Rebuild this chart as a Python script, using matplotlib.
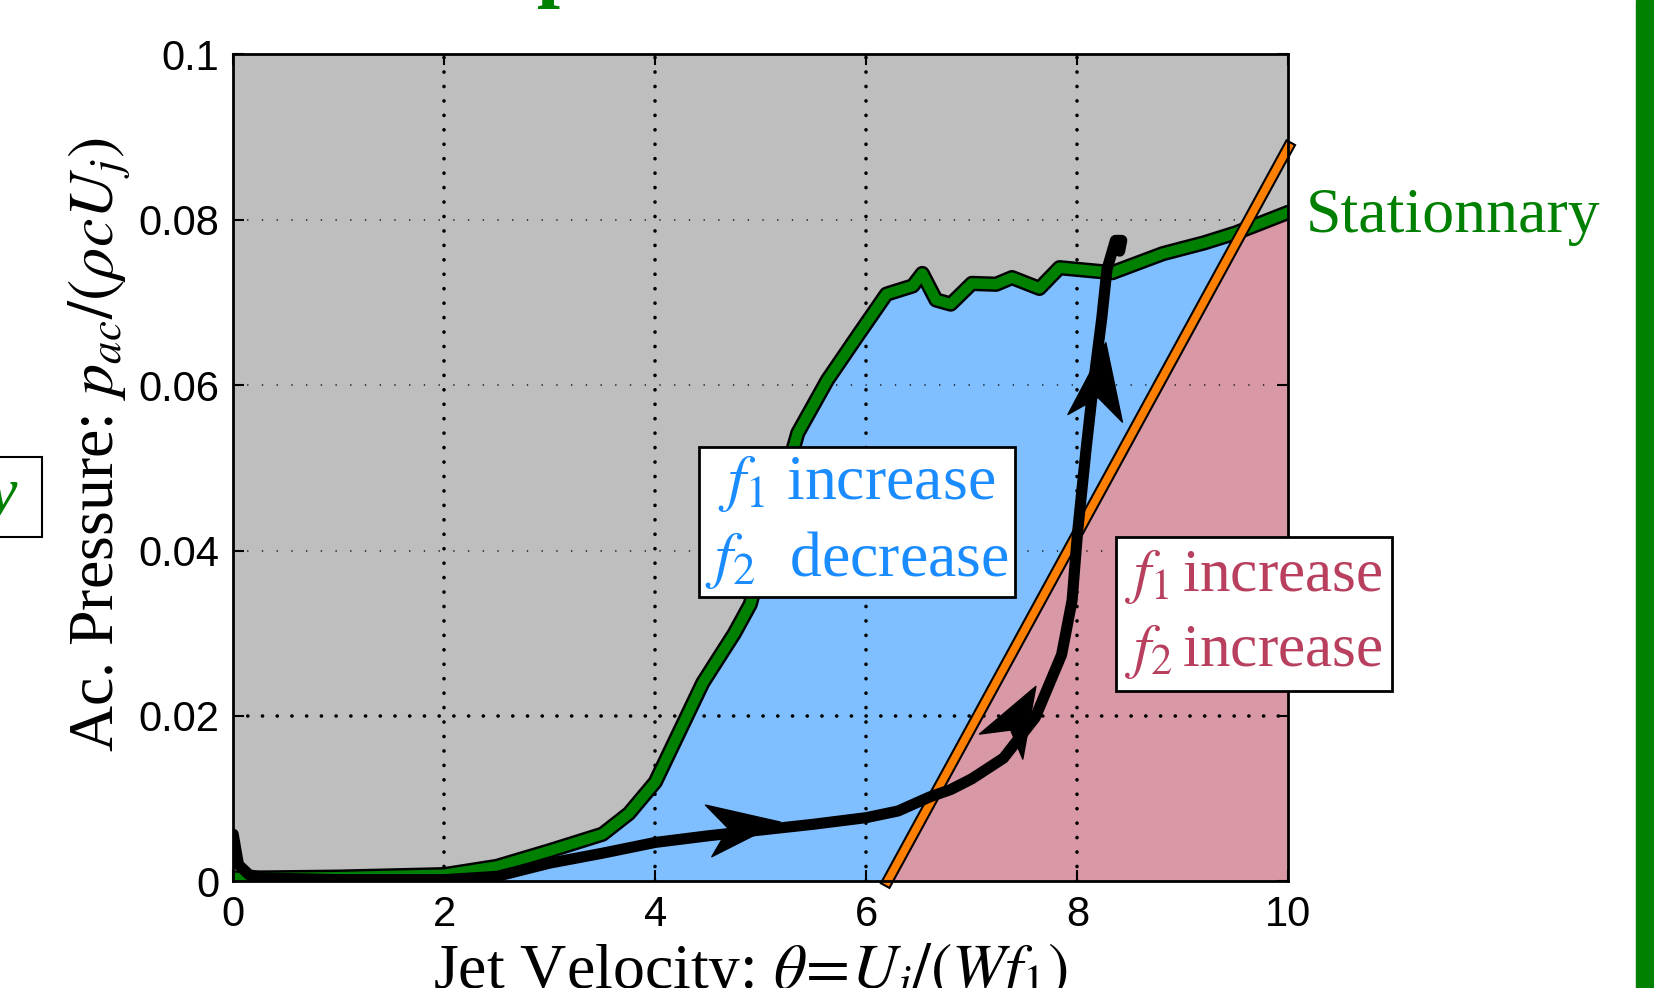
import numpy as np
import matplotlib
matplotlib.use("Agg")
import matplotlib.pyplot as plt
import matplotlib.patheffects as pe
from matplotlib.patches import Rectangle
from matplotlib.path import Path
from matplotlib.markers import MarkerStyle

plt.rcParams["font.family"] = ["Liberation Serif", "DejaVu Serif"]
plt.rcParams["mathtext.fontset"] = "stix"
plt.rcParams["lines.scale_dashes"] = False

# stationary regime limit (green)
green_x = [0, 0.3, 1, 2, 2.5, 3, 3.5, 3.75, 4, 4.15, 4.3, 4.45, 4.6, 4.75, 4.9,
           5.1, 5.35, 5.63, 5.93, 6.19, 6.44, 6.53, 6.66, 6.8, 7.0, 7.23, 7.38,
           7.64, 7.83, 8.33, 8.81, 9.2, 9.5, 10]
green_y = [0.0004, 0.0004, 0.0005, 0.0008, 0.0018, 0.0037, 0.0057, 0.0082, 0.012,
           0.016, 0.020, 0.024, 0.027, 0.030, 0.0335, 0.043, 0.0542, 0.0606,
           0.0662, 0.071, 0.072, 0.0735, 0.0703, 0.0698, 0.0723, 0.0722, 0.073,
           0.0717, 0.0742, 0.0736, 0.0759, 0.0772, 0.0784, 0.0809]

# measured path (black)
path_x = [0, 0.05, 0.15, 0.3, 1, 2, 2.5, 3, 3.5, 4, 4.5, 5, 5.5, 6, 6.3, 6.6,
          6.8, 7.0, 7.3, 7.6, 7.85, 7.95, 8.0, 8.08, 8.15, 8.23, 8.28, 8.36,
          8.42, 8.4]
path_y = [0.0057, 0.002, 0.0008, 0.0004, 0.0002, 0.0002, 0.0006, 0.0022, 0.0034,
          0.0047, 0.0055, 0.0062, 0.0069, 0.0077, 0.0085, 0.0102, 0.0111, 0.0124,
          0.0149, 0.0198, 0.0274, 0.034, 0.042, 0.052, 0.060, 0.068, 0.074,
          0.0775, 0.0775, 0.0762]

# boundary f1/f2 (orange)
limit_x = [6.2, 10]
limit_y = [0, 0.0888]

# arrow heads on the path: centre x, centre y, angle (deg), size (pt)
arrow_x = [4.84, 7.44, 8.21]
arrow_y = [0.00665, 0.01995, 0.0606]
arrow_ang = [7, 60, 82]
arrow_size = [52, 50, 55]

xticks = [0, 2, 4, 6, 8, 10]
yticks = [0, 0.02, 0.04, 0.06, 0.08, 0.1]
ytick_labels = ["0", "0.02", "0.04", "0.06", "0.08", "0.1"]

GREEN = "#008000"
GRAY = "#bebebe"
BLUE = "#80bfff"
PINK = "#d998a5"
ORANGE = "#ff8000"

fig = plt.figure(figsize=(16.54, 9.88), dpi=100)
ax = fig.add_axes([0.141, 0.108, 0.638, 0.837])
ax.set_facecolor(GRAY)

# regions
ax.fill_between(green_x, 0, green_y, color=BLUE, lw=0, zorder=1)
xx = np.union1d(np.linspace(limit_x[0], limit_x[1], 400), green_x)
xx = xx[xx >= limit_x[0]]
top = np.minimum(np.interp(xx, green_x, green_y), np.interp(xx, limit_x, limit_y))
ax.fill_between(xx, 0, top, color=PINK, lw=0, zorder=1.1)

# grid
for gx in xticks[1:-1]:
    ax.axvline(gx, color="k", lw=2.6, dashes=(0.1, 10.3),
               dash_capstyle="round", zorder=1.5)
for gy in yticks[1:-1]:
    bold = gy == 0.02
    ax.axhline(gy, color="k", lw=2.6 if bold else 1.1, dashes=(0.1, 10.5),
               dash_capstyle="round", zorder=1.5)

outline = [pe.Stroke(linewidth=11, foreground="k"), pe.Normal()]
ax.plot(green_x, green_y, color=GREEN, lw=7.5, zorder=3,
        path_effects=outline, solid_capstyle="round", solid_joinstyle="round")
ax.plot(limit_x, limit_y, color=ORANGE, lw=5.5, zorder=4, clip_on=False,
        path_effects=[pe.Stroke(linewidth=8.5, foreground="k"), pe.Normal()])
ax.plot(path_x, path_y, color="k", lw=8, zorder=5, solid_capstyle="round",
        solid_joinstyle="round")

head = Path([(1, 0), (-1, 0.72), (-0.45, 0), (-1, -0.72), (1, 0)],
            [Path.MOVETO, Path.LINETO, Path.LINETO, Path.LINETO, Path.CLOSEPOLY])
for x, y, a, s in zip(arrow_x, arrow_y, arrow_ang, arrow_size):
    ax.plot(x, y, marker=MarkerStyle(head).rotated(deg=a), ms=s,
            color="k", mec="k", zorder=6)

ax.set_xlim(0, 10)
ax.set_ylim(0, 0.1)
ax.set_xticks(xticks)
ax.set_yticks(yticks)
ax.set_yticklabels(ytick_labels)
ax.tick_params(direction="in", length=8, width=1.5, top=True, right=True,
               labelsize=30, pad=10)
for lab in ax.get_xticklabels() + ax.get_yticklabels():
    lab.set_fontfamily("Liberation Sans")
for sp in ax.spines.values():
    sp.set_linewidth(2)
    sp.set_zorder(7)

fig.text(100 / 1654, 1 - 445 / 988, r"Ac. Pressure: $p_{ac}/(\rho c U_j)$",
         rotation=90, ha="center", va="center", fontsize=46)
fig.text(750 / 1654, 1 - 942 / 988, r"Jet Velocity: $\theta\!=\!U_j/(Wf_1)$",
         ha="center", va="top", fontsize=46)

fig.text(1306 / 1654, 1 - 217 / 988, "Stationnary", color=GREEN,
         ha="left", va="center", fontsize=46)

box = dict(boxstyle="square,pad=0.1", fc="white", ec="black", lw=2)
fig.text(857 / 1654, 1 - 522 / 988, "$f_1$ increase\n$f_2$  decrease",
         color="#1a8cff", ha="center", va="center", fontsize=46,
         linespacing=1.3, bbox=box, zorder=8)
fig.text(1254 / 1654, 1 - 614 / 988, "$f_1\\,$increase\n$f_2\\,$increase",
         color="#b8405e", ha="center", va="center", fontsize=44,
         linespacing=1.38, bbox=dict(box, boxstyle="square,pad=0.15"), zorder=8)

# slide decorations around the plot
fig.patches.append(Rectangle((1636 / 1654, 0), 1, 1, transform=fig.transFigure,
                             color=GREEN, zorder=0))
fig.patches.append(Rectangle((-0.01, 1 - 537 / 988), 0.01 + 42 / 1654, 80 / 988,
                             transform=fig.transFigure, fc="white", ec="black",
                             lw=1.5, zorder=0))
fig.text(17 / 1654, 1 - 511 / 988, "y", style="italic", color=GREEN,
         ha="right", va="baseline", fontsize=46)
fig.text(537 / 1654, 1 + 9 / 988, "p", color=GREEN, fontweight="bold",
         ha="left", va="baseline", fontsize=60)

fig.savefig("out.png", dpi=100)
